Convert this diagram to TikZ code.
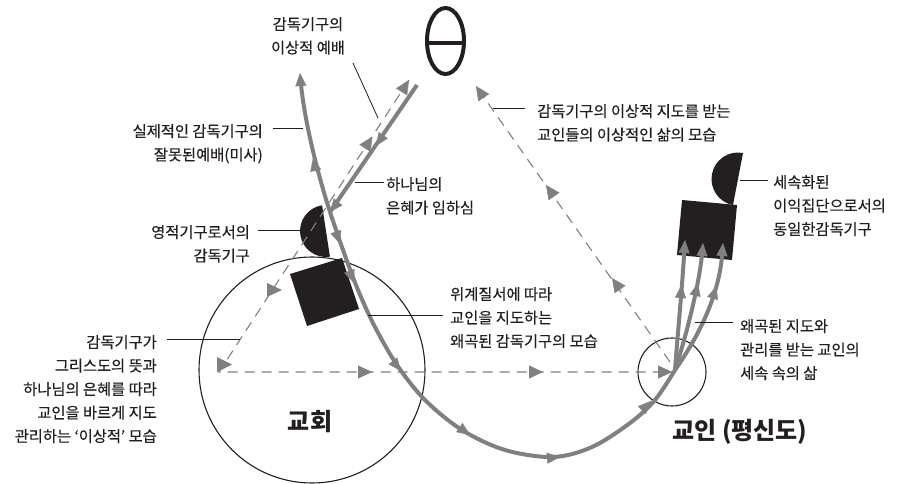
\documentclass[tikz,border=0pt]{standalone}
\usepackage{fontspec}
\setmainfont{Noto Sans CJK KR}[FakeBold=0.35]
\newfontfamily\bigfont{Noto Sans CJK KR Bold}
\usetikzlibrary{arrows.meta}
\definecolor{mg}{RGB}{128,128,130}
\definecolor{ink}{RGB}{35,31,32}
\begin{document}
\begin{tikzpicture}[x=1pt,y=-1pt,
  lbl/.style={font=\fontsize{15.3}{23.5}\selectfont, inner sep=0pt, text=ink},
  big/.style={font=\fontsize{24}{28}\selectfont\bfseries, inner sep=0pt, text=ink},
  lead/.style={draw=ink, line width=0.8pt},
  gline/.style={draw=mg, line width=4pt},
  gtip/.style={draw=mg, line width=0.4pt, -{Triangle[length=13pt,width=11pt]}},
  dline/.style={draw=mg, line width=1.1pt, dash pattern=on 10pt off 7pt},
  dtip/.style={draw=mg, line width=0.4pt, -{Triangle[length=14pt,width=13pt]}},
  blk/.style={fill=ink}]
\useasboundingbox (0,0) rectangle (899,484);
% circles
\node[draw=ink, circle, line width=1.1pt, minimum size=226pt, inner sep=0pt] (church) at (312,370) {};
\node[draw=ink, circle, line width=1.1pt, minimum size=68pt, inner sep=0pt] (member) at (672,372) {};
% black shapes
\fill[blk] (290,274) -- (342,258) -- (359,309) -- (307,326) -- cycle;
\fill[blk] (322.07,205.3) arc[start angle=261.3, end angle=81.3, radius=26] -- cycle;
\fill[blk] (682,200) -- (737,205) -- (732,260) -- (677,255) -- cycle;
\fill[blk] (743,153) arc[start angle=280.9, end angle=100.9, radius=26.5] -- cycle;
% theta
\draw[ink, line width=4pt] (445.5,41) ellipse [x radius=18.5, y radius=33];
\draw[ink, line width=4pt] (427,43) -- (464,43);
% dashed lines
\coordinate (dTop) at (409,80);
\coordinate (dCorner) at (219,372);
\coordinate (dEnd) at (672,372);
\coordinate (uStart) at (670,362);
\coordinate (uTop) at (476,86);
\draw[dline] (dTop) -- (dCorner) -- (dEnd);
\draw[dline] (uStart) -- (uTop);
\fill[mg] (217,357) -- (217,372) -- (232,364.5) -- cycle;
\fill[mg] (267,283) -- (267,297) -- (282,290) -- cycle;
\draw[dtip] (367,145) -- (372.5,136.5);
\draw[dtip] (404,88) -- (dTop);
\draw[dtip] (360,372) -- (372,372);
\draw[dtip] (531,372) -- (543,372);
\draw[dtip] (660,372) -- (dEnd);
\draw[dtip] (553,195) -- (546,185);
\draw[dtip] (619,288) -- (612,278);
\draw[dtip] (482,95) -- (uTop);
% gray lines
\coordinate (J) at (330,212);
\coordinate (T1) at (300,73);
\coordinate (G0) at (417,85);
\coordinate (S) at (675,370);
\coordinate (B1) at (685,240);
\coordinate (B2) at (703,243);
\coordinate (B3) at (723,243);
\draw[gline, shorten >=8pt] (J) .. controls (318,175) and (304,120) .. (T1);
\draw[gline] (G0) -- (J);
\draw[gline] plot[smooth, tension=0.55] coordinates {(J) (343,250) (358,290) (375,327) (397,365) (425,400) (462,430) (505,450) (553,457) (592,447) (630,423) (655,400) (S)};
\draw[gline, shorten >=8pt] (S) .. controls (678,330) and (682,290) .. (B1);
\draw[gline, shorten >=8pt] (S) .. controls (688,330) and (700,280) .. (B2);
\draw[gline, shorten >=8pt] (S) .. controls (703,330) and (720,290) .. (B3);
\draw[gtip] (301,88) -- (T1);
\draw[gtip] (316,172) -- (313,158);
\draw[gtip] (384,134) -- (376,146);
\draw[gtip] (338,202) -- (J);
\draw[gtip] (336,232) -- (340,244);
\draw[gtip] (349,270) -- (354,283);
\draw[gtip] (393,361) -- (401,371);
\draw[gtip] (460,428) -- (470,435);
\draw[gtip] (549,458) -- (560,457);
\draw[gtip] (643,409) -- (651,401);
\draw[gtip] (680.5,298) -- (681.5,285);
\draw[gtip] (695,296) -- (698,283);
\draw[gtip] (713,297) -- (716.5,286);
\draw[gtip] (684,254) -- (B1);
\draw[gtip] (702,256) -- (B2);
\draw[gtip] (722,256) -- (B3);
% labels
\node[lbl, anchor=north, align=center] (tA) at (308,17) {감독기구의\\이상적 예배};
\node[lbl, anchor=north east, align=right] (tB) at (263,124) {실제적인 감독기구의\\잘못된예배(미사)};
\node[lbl, anchor=north west, align=left] (tC) at (386,177) {하나님의\\은혜가 임하심};
\node[lbl, anchor=north east, align=right] (tD) at (250,225) {영적기구로서의\\감독기구};
\node[lbl, anchor=north east, align=right] (tE) at (157,335) {감독기구가\\그리스도의 뜻과\\하나님의 은혜를 따라\\교인을 바르게 지도\\관리하는 ‘이상적’ 모습};
\node[lbl, anchor=north west, align=left] (tF) at (450,287) {위계질서에 따라\\교인을 지도하는\\왜곡된 감독기구의 모습};
\node[lbl, anchor=north west, align=left] (tG) at (537,104) {감독기구의 이상적 지도를 받는\\교인들의 이상적인 삶의 모습};
\node[lbl, anchor=north west, align=left] (tH) at (773,175) {세속화된\\이익집단으로서의\\동일한감독기구};
\node[lbl, anchor=north west, align=left] (tI) at (740,319) {왜곡된 지도와\\관리를 받는 교인의\\세속 속의 삶};
\node[big] (tChurch) at (310,422) {\bigfont 교회};
\node[big] (tMember) at (740,432) {\bigfont 교인 (평신도)};
% leaders
\draw[lead] (353,63) -- (378,118);
\draw[lead] (273,128) -- (303,128);
\draw[lead] (355,182) -- (384,182);
\draw[lead] (258,230) -- (303,230);
\draw[lead] (167,339) -- (240,339);
\draw[lead] (368,315) -- (443,315);
\draw[lead] (493,108) -- (525,108);
\draw[lead] (740,180) -- (768,180);
\draw[lead] (695,322) -- (733,322);
\end{tikzpicture}
\end{document}
